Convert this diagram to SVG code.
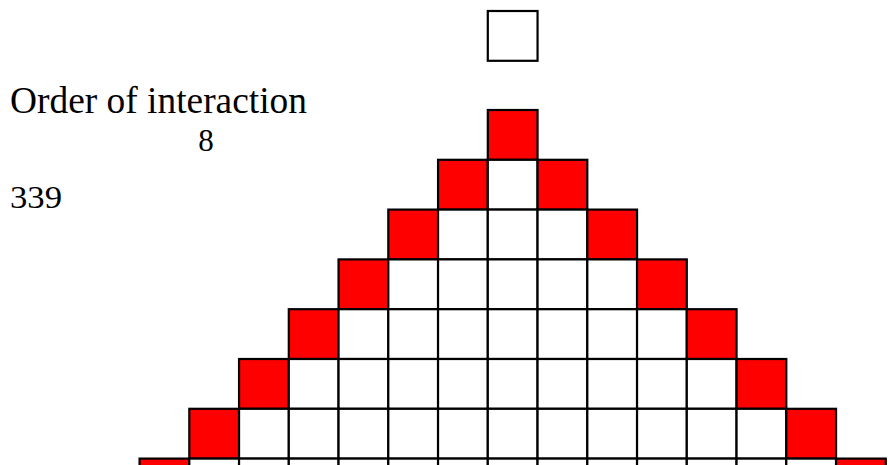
<svg xmlns="http://www.w3.org/2000/svg" width="888" height="465" viewBox="0 0 888 465">
<style>
.c{fill:#fff;stroke:#000;stroke-width:2.2}
.r{fill:#f00;stroke:#000;stroke-width:2.2}
.t{font-family:"Liberation Serif","DejaVu Serif",serif;fill:#000}
</style>
<rect width="888" height="465" fill="#fff"/>
<g id="top"><rect class="c" x="487.8" y="11" width="49.75" height="49.8"/></g>
<g id="labels">
<text class="t" x="10" y="113" font-size="37" textLength="297" lengthAdjust="spacingAndGlyphs">Order of interaction</text>
<text class="t" x="206" y="151" font-size="31" text-anchor="middle">8</text>
<text class="t" x="10" y="208" font-size="31" textLength="52" lengthAdjust="spacingAndGlyphs">339</text>
</g>
<g id="row1"><rect class="r" x="487.8" y="110" width="49.75" height="49.8"/></g>
<g id="row2">
<rect class="r" x="438.05" y="159.8" width="49.75" height="49.8"/>
<rect class="c" x="487.8" y="159.8" width="49.75" height="49.8"/>
<rect class="r" x="537.55" y="159.8" width="49.75" height="49.8"/>
</g>
<g id="row3">
<rect class="r" x="388.3" y="209.6" width="49.75" height="49.8"/>
<rect class="c" x="438.05" y="209.6" width="49.75" height="49.8"/>
<rect class="c" x="487.8" y="209.6" width="49.75" height="49.8"/>
<rect class="c" x="537.55" y="209.6" width="49.75" height="49.8"/>
<rect class="r" x="587.3" y="209.6" width="49.75" height="49.8"/>
</g>
<g id="row4">
<rect class="r" x="338.55" y="259.4" width="49.75" height="49.8"/>
<rect class="c" x="388.3" y="259.4" width="49.75" height="49.8"/>
<rect class="c" x="438.05" y="259.4" width="49.75" height="49.8"/>
<rect class="c" x="487.8" y="259.4" width="49.75" height="49.8"/>
<rect class="c" x="537.55" y="259.4" width="49.75" height="49.8"/>
<rect class="c" x="587.3" y="259.4" width="49.75" height="49.8"/>
<rect class="r" x="637.05" y="259.4" width="49.75" height="49.8"/>
</g>
<g id="row5">
<rect class="r" x="288.8" y="309.2" width="49.75" height="49.8"/>
<rect class="c" x="338.55" y="309.2" width="49.75" height="49.8"/>
<rect class="c" x="388.3" y="309.2" width="49.75" height="49.8"/>
<rect class="c" x="438.05" y="309.2" width="49.75" height="49.8"/>
<rect class="c" x="487.8" y="309.2" width="49.75" height="49.8"/>
<rect class="c" x="537.55" y="309.2" width="49.75" height="49.8"/>
<rect class="c" x="587.3" y="309.2" width="49.75" height="49.8"/>
<rect class="c" x="637.05" y="309.2" width="49.75" height="49.8"/>
<rect class="r" x="686.8" y="309.2" width="49.75" height="49.8"/>
</g>
<g id="row6">
<rect class="r" x="239.05" y="359" width="49.75" height="49.8"/>
<rect class="c" x="288.8" y="359" width="49.75" height="49.8"/>
<rect class="c" x="338.55" y="359" width="49.75" height="49.8"/>
<rect class="c" x="388.3" y="359" width="49.75" height="49.8"/>
<rect class="c" x="438.05" y="359" width="49.75" height="49.8"/>
<rect class="c" x="487.8" y="359" width="49.75" height="49.8"/>
<rect class="c" x="537.55" y="359" width="49.75" height="49.8"/>
<rect class="c" x="587.3" y="359" width="49.75" height="49.8"/>
<rect class="c" x="637.05" y="359" width="49.75" height="49.8"/>
<rect class="c" x="686.8" y="359" width="49.75" height="49.8"/>
<rect class="r" x="736.55" y="359" width="49.75" height="49.8"/>
</g>
<g id="row7">
<rect class="r" x="189.3" y="408.8" width="49.75" height="49.8"/>
<rect class="c" x="239.05" y="408.8" width="49.75" height="49.8"/>
<rect class="c" x="288.8" y="408.8" width="49.75" height="49.8"/>
<rect class="c" x="338.55" y="408.8" width="49.75" height="49.8"/>
<rect class="c" x="388.3" y="408.8" width="49.75" height="49.8"/>
<rect class="c" x="438.05" y="408.8" width="49.75" height="49.8"/>
<rect class="c" x="487.8" y="408.8" width="49.75" height="49.8"/>
<rect class="c" x="537.55" y="408.8" width="49.75" height="49.8"/>
<rect class="c" x="587.3" y="408.8" width="49.75" height="49.8"/>
<rect class="c" x="637.05" y="408.8" width="49.75" height="49.8"/>
<rect class="c" x="686.8" y="408.8" width="49.75" height="49.8"/>
<rect class="c" x="736.55" y="408.8" width="49.75" height="49.8"/>
<rect class="r" x="786.3" y="408.8" width="49.75" height="49.8"/>
</g>
<g id="row8">
<rect class="r" x="139.55" y="458.6" width="49.75" height="49.8"/>
<rect class="c" x="189.3" y="458.6" width="49.75" height="49.8"/>
<rect class="c" x="239.05" y="458.6" width="49.75" height="49.8"/>
<rect class="c" x="288.8" y="458.6" width="49.75" height="49.8"/>
<rect class="c" x="338.55" y="458.6" width="49.75" height="49.8"/>
<rect class="c" x="388.3" y="458.6" width="49.75" height="49.8"/>
<rect class="c" x="438.05" y="458.6" width="49.75" height="49.8"/>
<rect class="c" x="487.8" y="458.6" width="49.75" height="49.8"/>
<rect class="c" x="537.55" y="458.6" width="49.75" height="49.8"/>
<rect class="c" x="587.3" y="458.6" width="49.75" height="49.8"/>
<rect class="c" x="637.05" y="458.6" width="49.75" height="49.8"/>
<rect class="c" x="686.8" y="458.6" width="49.75" height="49.8"/>
<rect class="c" x="736.55" y="458.6" width="49.75" height="49.8"/>
<rect class="c" x="786.3" y="458.6" width="49.75" height="49.8"/>
<rect class="r" x="836.05" y="458.6" width="49.75" height="49.8"/>
</g>
<g id="connectors"/>
</svg>
